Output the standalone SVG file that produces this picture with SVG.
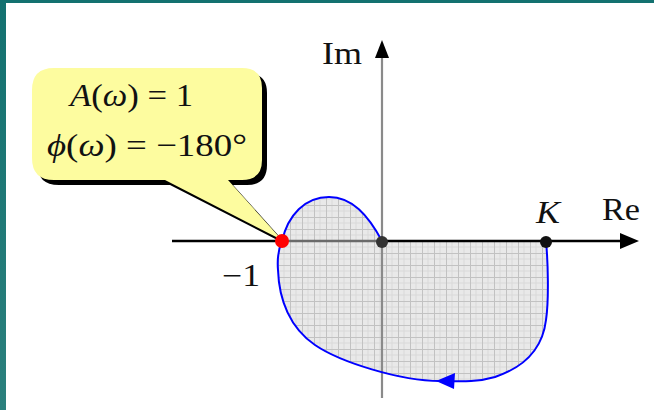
<svg xmlns="http://www.w3.org/2000/svg" width="654" height="410" viewBox="0 0 654 410">
<defs>
<linearGradient id="teal" x1="0" y1="0" x2="0" y2="1">
<stop offset="0" stop-color="#137170"/>
<stop offset="1" stop-color="#2b807d"/>
</linearGradient>
<pattern id="grid" width="12" height="12" patternUnits="userSpaceOnUse" x="2" y="1">
<rect width="12" height="12" fill="#e9e9e9"/>
<path d="M6 0V12M0 6H12" stroke="#d9d9d9" stroke-width="1"/>
<path d="M0.5 0V12M0 0.5H12" stroke="#c2c2c2" stroke-width="1"/>
</pattern>
<style>
.lbl{font-family:"Liberation Serif",serif;font-size:31px;fill:#111}
.eq{font-family:"Liberation Serif",serif;font-size:32px;fill:#111}
.it{font-style:italic}
</style>
</defs>
<rect width="654" height="410" fill="#ffffff"/>
<rect x="0" y="0" width="654" height="3" fill="#137170"/>
<rect x="0" y="0" width="6" height="410" fill="url(#teal)"/>

<g id="region">
<path d="M282 241 C288 215 305 197 329 197 C352 197 368 215 382 241 L546 241 C548 262 549 300 546 320 C543 345 528 366 495 377 C475 383 455 381 440 381 C400 381 340 362 315 345 C290 328 279 300 278 270 C277 258 279 248 282 241 Z" fill="url(#grid)"/>
</g>

<g id="axes">
<line x1="382" y1="56" x2="382" y2="398" stroke="#8a8a8a" stroke-width="2.2"/>
<polygon points="382,40 375,58 389,58" fill="#000"/>
<line x1="172" y1="241" x2="282" y2="241" stroke="#000" stroke-width="2.5"/>
<line x1="282" y1="241" x2="382" y2="241" stroke="#6a6a6a" stroke-width="2.5"/>
<line x1="382" y1="241" x2="622" y2="241" stroke="#000" stroke-width="2.5"/>
<polygon points="639,241 620,233 620,249" fill="#000"/>
</g>

<g id="curve">
<path d="M546 241 C548 262 549 300 546 320 C543 345 528 366 495 377 C475 383 455 381 440 381 C400 381 340 362 315 345 C290 328 279 300 278 270 C277 258 279 248 282 241 C288 215 305 197 329 197 C352 197 368 215 382 241" fill="none" stroke="#0000ff" stroke-width="2"/>
<polygon points="436,381 455,373 454,389" fill="#0000ff"/>
</g>

<g id="callout">
<path transform="translate(5,5)" d="M54 68 H242 Q262 68 262 88 V160 Q262 180 242 180 H228 L282 240 L165 180 H54 Q32 180 32 158 V90 Q32 68 54 68 Z" fill="#000"/>
<path d="M54 68 H242 Q262 68 262 88 V160 Q262 180 242 180 H228 L282 240 L165 180 H54 Q32 180 32 158 V90 Q32 68 54 68 Z" fill="#fdfc9f"/>
<text class="eq" x="70" y="106" textLength="123" lengthAdjust="spacingAndGlyphs"><tspan class="it">A</tspan>(<tspan class="it">ω</tspan>) = 1</text>
<text class="eq" x="47" y="156" textLength="200" lengthAdjust="spacingAndGlyphs"><tspan class="it">ϕ</tspan>(<tspan class="it">ω</tspan>) = −180°</text>
</g>

<g id="points">
<circle cx="282" cy="241" r="7" fill="#ff0000"/>
<circle cx="382" cy="242" r="6" fill="#333"/>
<circle cx="546" cy="242" r="6" fill="#111"/>
</g>

<g id="labels">
<text class="lbl" x="322" y="64" textLength="40" lengthAdjust="spacingAndGlyphs">Im</text>
<text class="lbl" x="602" y="220" textLength="38" lengthAdjust="spacingAndGlyphs">Re</text>
<text class="lbl it" x="536" y="223" textLength="24" lengthAdjust="spacingAndGlyphs">K</text>
<text class="lbl" x="222" y="286" textLength="38" lengthAdjust="spacingAndGlyphs">−1</text>
</g>
</svg>
